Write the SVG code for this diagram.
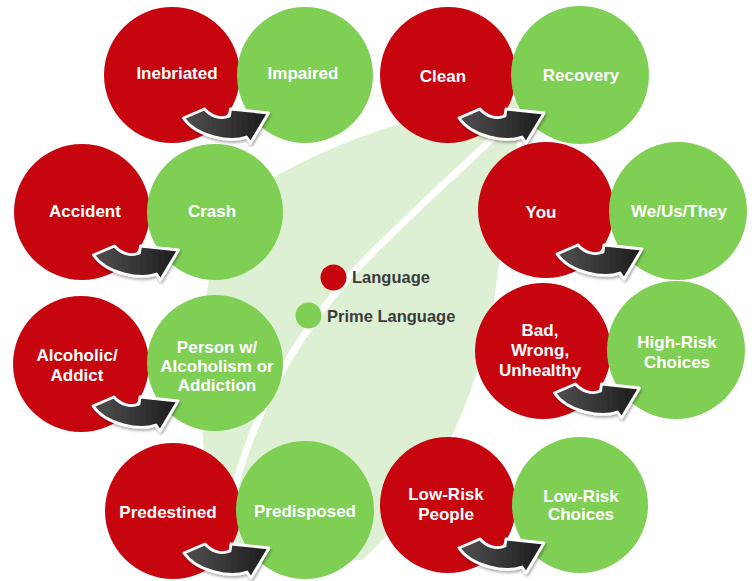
<svg xmlns="http://www.w3.org/2000/svg" xmlns:xlink="http://www.w3.org/1999/xlink" width="752" height="581" viewBox="0 0 752 581">
  <style>
    .red { fill: #c7050f; }
    .green { fill: #7fcf55; }
    .lbl { font-family: "Liberation Sans", Arial, sans-serif; font-weight: bold; font-size: 17px; fill: #ffffff; text-anchor: middle; }
    .legend { font-family: "Liberation Sans", Arial, sans-serif; font-weight: bold; font-size: 16.5px; fill: #3b3b3b; }
    .arrow { fill: url(#arrowFill); stroke: #ffffff; stroke-width: 2.8; stroke-linejoin: round; filter: url(#arrowShadow); }
  </style>
  <defs>
    <linearGradient id="arrowFill" x1="0" y1="0" x2="1" y2="0">
      <stop offset="0" stop-color="#505050"/>
      <stop offset="1" stop-color="#1c1c1c"/>
    </linearGradient>
    <filter id="arrowShadow" x="-30%" y="-30%" width="160%" height="160%">
      <feDropShadow dx="1" dy="2" stdDeviation="1.5" flood-color="#000000" flood-opacity="0.35"/>
    </filter>
    <!-- curved arrow, origin at the midpoint between the two circle centres -->
    <path id="swoosh" class="arrow" d="M -55,43 L -34,34 C -28,41 -18,45 -9,41 L -8,34 L 30,38 L 12,68 L 8,62 C -8,68 -42,62 -55,43 Z"/>
  </defs>

  <rect width="752" height="581" fill="#ffffff"/>

  <!-- leaf backdrop with its white midrib -->
  <g id="leaf">
    <path d="M 525,98 C 420,110 300,150 235,205 C 195,260 195,420 212,520 C 222,562 250,566 290,563 L 362,560 C 430,500 478,400 494,300 C 505,220 515,150 525,98 Z" fill="#def0d3"/>
    <path d="M 234,490 C 258,400 305,320 370,255 C 420,205 470,160 512,120" fill="none" stroke="#ffffff" stroke-width="7" stroke-linecap="round"/>
  </g>

  <!-- legend -->
  <g id="legend">
    <circle cx="333.5" cy="277.5" r="13" class="red"/>
    <text x="352" y="283" class="legend">Language</text>
    <circle cx="308.5" cy="315.5" r="13" class="green"/>
    <text x="327" y="322" class="legend" font-size="17">Prime Language</text>
  </g>

  <!-- term circles -->
  <g id="inebriated"><circle cx="172" cy="75" r="68" class="red"/><text x="177" y="79" class="lbl">Inebriated</text></g>
  <g id="impaired"><circle cx="305" cy="75" r="68" class="green"/><text x="303" y="79" class="lbl">Impaired</text></g>

  <g id="clean"><circle cx="448" cy="75" r="68" class="red"/><text x="443" y="82" class="lbl">Clean</text></g>
  <g id="recovery"><circle cx="580" cy="75" r="69" class="green"/><text x="581" y="81" class="lbl">Recovery</text></g>

  <g id="accident"><circle cx="82" cy="212" r="68" class="red"/><text x="85" y="217" class="lbl">Accident</text></g>
  <g id="crash"><circle cx="215" cy="212" r="68" class="green"/><text x="212" y="217" class="lbl">Crash</text></g>

  <g id="you"><circle cx="546" cy="210" r="68" class="red"/><text x="541" y="218" class="lbl">You</text></g>
  <g id="we-us-they"><circle cx="678" cy="211" r="69" class="green"/><text x="679" y="217" class="lbl">We/Us/They</text></g>

  <g id="alcoholic"><circle cx="81" cy="364" r="68" class="red"/><text class="lbl"><tspan x="77" y="361">Alcoholic/</tspan><tspan x="77" y="381">Addict</tspan></text></g>
  <g id="person-with"><circle cx="215" cy="363" r="68" class="green"/><text class="lbl"><tspan x="217" y="353">Person w/</tspan><tspan x="217" y="372">Alcoholism or</tspan><tspan x="217" y="391">Addiction</tspan></text></g>

  <g id="bad-wrong"><circle cx="543" cy="351" r="68" class="red"/><text class="lbl"><tspan x="540" y="336">Bad,</tspan><tspan x="540" y="356">Wrong,</tspan><tspan x="540" y="376">Unhealthy</tspan></text></g>
  <g id="high-risk"><circle cx="676" cy="350" r="69" class="green"/><text class="lbl"><tspan x="677" y="348">High-Risk</tspan><tspan x="677" y="368">Choices</tspan></text></g>

  <g id="predestined"><circle cx="173" cy="511" r="68" class="red"/><text x="168" y="518" class="lbl">Predestined</text></g>
  <g id="predisposed"><circle cx="305" cy="510" r="69" class="green"/><text x="305" y="517" class="lbl">Predisposed</text></g>

  <g id="low-risk-people"><circle cx="448" cy="505" r="68" class="red"/><text class="lbl"><tspan x="446" y="500">Low-Risk</tspan><tspan x="446" y="520">People</tspan></text></g>
  <g id="low-risk-choices"><circle cx="580" cy="505" r="68" class="green"/><text class="lbl"><tspan x="581" y="502">Low-Risk</tspan><tspan x="581" y="520">Choices</tspan></text></g>

  <!-- connectors: one swoosh per pair -->
  <g id="connectors">
    <use xlink:href="#swoosh" transform="translate(238.5,75)"/>
    <use xlink:href="#swoosh" transform="translate(514,75)"/>
    <use xlink:href="#swoosh" transform="translate(148.5,212)"/>
    <use xlink:href="#swoosh" transform="translate(612,211)"/>
    <use xlink:href="#swoosh" transform="translate(148,363)"/>
    <use xlink:href="#swoosh" transform="translate(609.5,350)"/>
    <use xlink:href="#swoosh" transform="translate(239,510)"/>
    <use xlink:href="#swoosh" transform="translate(514,505)"/>
  </g>
</svg>
